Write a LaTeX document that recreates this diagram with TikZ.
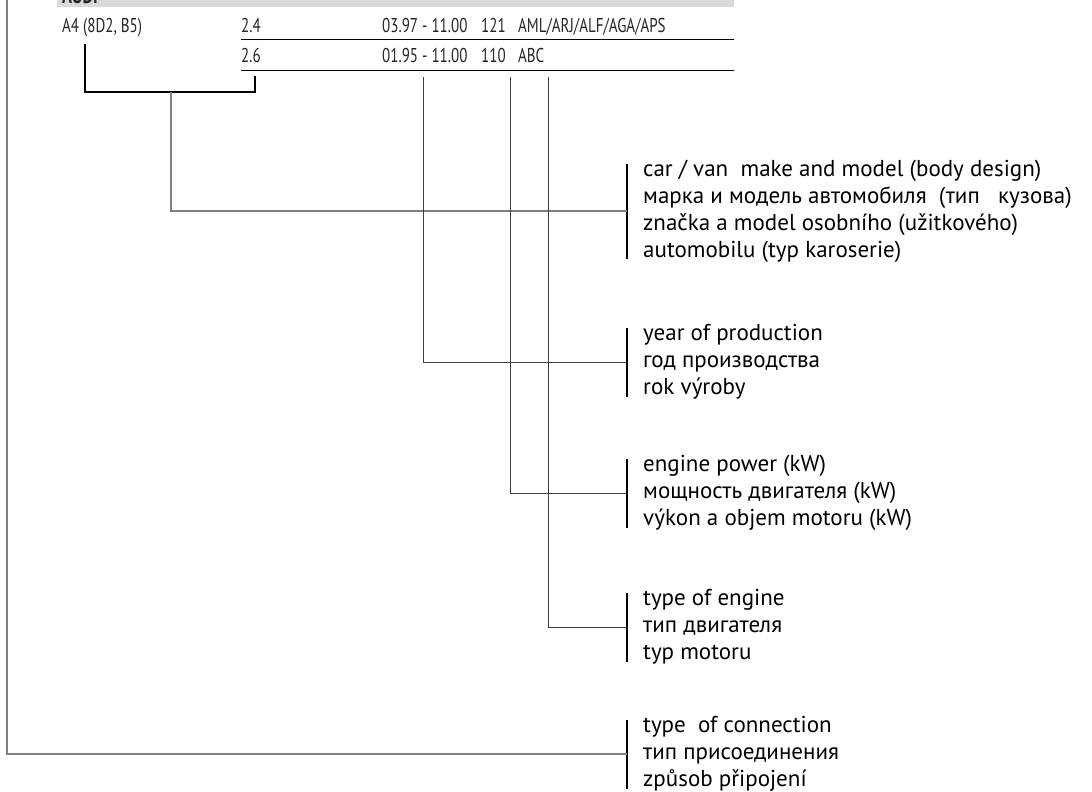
\documentclass[tikz,border=0pt]{standalone}
\usepackage{fontspec}
\setmainfont{PT Sans}
\newfontfamily\condfont{PT Sans}[FakeStretch=0.75]
\begin{document}
\begin{tikzpicture}[x=1pt,y=-1pt,
  cell/.style={font=\condfont\fontsize{20}{24}\selectfont, anchor=base west, inner sep=0pt, text=black!85},
  hdrtext/.style={font=\condfont\bfseries\fontsize{22}{24}\selectfont, anchor=base west, inner sep=0pt, text=black!85},
  lbl/.style={font=\fontsize{23}{27}\selectfont, align=left, anchor=west, inner xsep=16pt, inner ysep=0pt, text=black},
  labelbar/.style={draw=black, line width=1.2pt},
  tablerule/.style={draw=black, line width=1.2pt},
  bracketline/.style={draw=black, line width=1.1pt},
  lightconn/.style={draw=black!50, line width=1.1pt},
  darkconn/.style={draw=black!75, line width=1pt},
]
\clip (0,0) rectangle (1092,792);
% header strip
\fill[black!15] (57,-2) rectangle (734,7.5);
\node[hdrtext] (brand) at (62,4) {AUDI};
% table
\node[cell] (make) at (62,33) {A4 (8D2, B5)};
\node[cell] (v1) at (241,33) {2.4};
\node[cell] (y1) at (382,33) {03.97 - 11.00};
\node[cell] (p1) at (481,33) {121};
\node[cell] (e1) at (518,33) {AML/ARJ/ALF/AGA/APS};
\node[cell] (v2) at (241,63) {2.6};
\node[cell] (y2) at (382,63) {01.95 - 11.00};
\node[cell] (p2) at (481,63) {110};
\node[cell] (e2) at (518,63) {ABC};
\coordinate (r1a) at (241,39.5);
\coordinate (r1b) at (734,39.5);
\coordinate (r2a) at (241,70.5);
\coordinate (r2b) at (734,70.5);
\draw[tablerule] (r1a) -- (r1b);
\draw[tablerule] (r2a) -- (r2b);
% labels
\node[lbl] (l1) at (627,211) {car / van\ \ make and model (body design)\\марка и модель автомобиля\ \ (тип\ \ \ кузова)\\značka a model osobního (užitkového)\\automobilu (typ karoserie)};
\node[lbl] (l2) at (627,362) {year of production\\год производства\\rok výroby};
\node[lbl] (l3) at (627,493) {engine power (kW)\\мощность двигателя (kW)\\výkon a objem motoru (kW)};
\node[lbl] (l4) at (627,627) {type of engine\\тип двигателя\\typ motoru};
\node[lbl] (l5) at (627,754) {type\ \ of connection\\тип присоединения\\způsob připojení};
\foreach \n in {l1,l2,l3,l4,l5} {\draw[labelbar] ([yshift=-4pt]\n.north west) -- ([yshift=3pt]\n.south west);}
% bracket
\coordinate (bl) at (85,44);
\coordinate (br) at (255,76);
\coordinate (blc) at (85,92);
\coordinate (brc) at (255,92);
\coordinate (bm) at (171,92);
\draw[bracketline] (bl) -- (blc) -- (brc) -- (br);
\draw[lightconn] (bm) |- (l1.west);
% column connectors
\coordinate (ty) at (423,77);
\coordinate (tp) at (510,77);
\coordinate (te) at (548,77);
\draw[darkconn] (ty) |- (l2.west);
\draw[darkconn] (tp) |- (l3.west);
\draw[darkconn] (te) |- (l4.west);
% outer connector
\coordinate (top) at (7,-2);
\draw[lightconn, line width=1.4pt] (top) |- (l5.west);
\end{tikzpicture}
\end{document}
